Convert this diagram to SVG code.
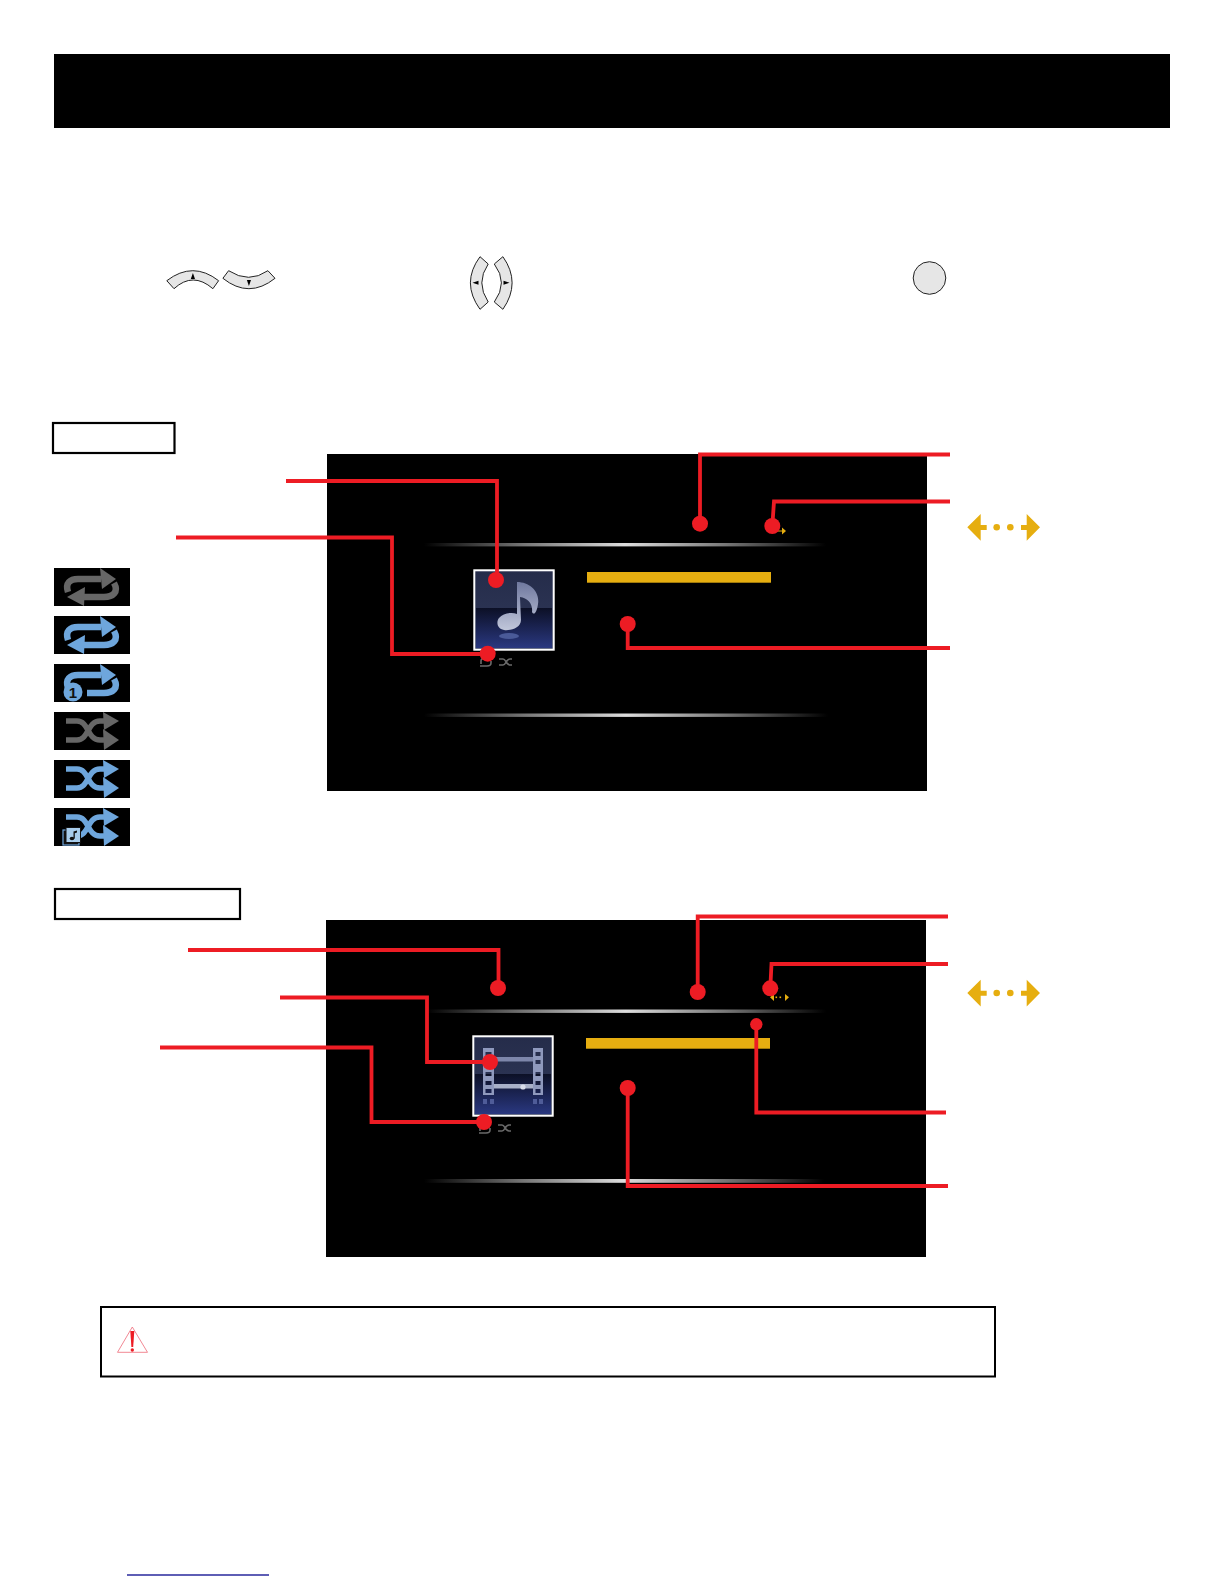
<svg xmlns="http://www.w3.org/2000/svg" width="1224" height="1584" viewBox="0 0 1224 1584">
<style>
.k{fill:#000}
.box{fill:#fff;stroke:#000;stroke-width:2.2}
.btn{fill:#e6e6e6;stroke:#222;stroke-width:1}
.wire{fill:none;stroke:#ed1c24;stroke-width:3.8}
.dot{fill:#ed1c24}
.gold{fill:#e6ae10}
.tw{fill:none;stroke:#fff;stroke-width:2}
.ig{--c:#666}
.ib{--c:#6ea6dc}
.b{fill:none;stroke:var(--c);stroke-width:6.500}
.s{fill:none;stroke:var(--c);stroke-width:5.500}
.h{fill:var(--c)}
.sm{fill:none;stroke:#6a6a6a;stroke-width:1.6}
</style>
<defs>
<linearGradient id="sheen"><stop offset="0" stop-color="#000"/><stop offset=".25" stop-color="#777"/><stop offset=".5" stop-color="#ddd"/><stop offset=".75" stop-color="#777"/><stop offset="1" stop-color="#000"/></linearGradient>
<linearGradient id="tUp" x1="0" y1="0" x2="0" y2="1"><stop offset="0" stop-color="#252c4a"/><stop offset="1" stop-color="#30395a"/></linearGradient>
<linearGradient id="tLo" x1="0" y1="0" x2="0" y2="1"><stop offset="0" stop-color="#0c1026"/><stop offset="1" stop-color="#2a3880"/></linearGradient>
<linearGradient id="fig" x1="0" y1="0" x2="0" y2="1"><stop offset="0" stop-color="#6f789e"/><stop offset="1" stop-color="#c0c6da"/></linearGradient>
<g id="rep"><path class="b" d="M14 24C11 15 16 11 24 11H47"/><path class="h" d="M46 0L62 11L48 21Z"/><path class="b" d="M60 15C65 24 59 29 50 29H28"/><path class="h" d="M31 19L13 29L30 38Z"/></g>
<g id="rep1"><path class="b" d="M14 24C11 15 16 11 24 11H47"/><path class="h" d="M46 0L62 11L48 21Z"/><path class="b" d="M60 15C65 24 59 29 50 29H33"/><circle cx="19" cy="28" r="9.500" fill="#6ea6dc"/><text x="19" y="33.500" text-anchor="middle" font-family="Liberation Sans, sans-serif" font-weight="700" font-size="15" fill="#111">1</text></g>
<g id="shu"><path class="s" d="M12 9H23C35 9 33 28 46 28H52"/><path class="h" d="M49 17L65 28L50 38Z"/><path class="s" d="M12 28H23C35 28 33 9 46 9H52"/><path class="h" d="M49 0L65 9L50 18Z"/></g>
</defs>
<rect id="header" class="k" x="54" y="54" width="1116" height="74"/>

<g id="btn-up"><path class="btn" d="M166.800 280.700Q192.900 260.700 218.600 280.700L212.900 288.700Q192.900 271.300 174 288.700Z"/><path d="M192.900 273L190.800 279H195Z"/></g>
<g id="btn-down"><path class="btn" d="M228.600 270.700Q248.900 283.900 267.900 270.700L275 278.300Q248.900 299.100 222.900 278.300Z"/><path d="M248.900 286L246.900 280H251Z"/></g>
<g id="btn-left"><path class="btn" d="M480 256.700L488.200 264Q475.400 282.700 488.200 302L480 309.300Q460.800 282.700 480 256.700Z"/><path d="M472.500 282.700L478.500 280.700V284.700Z"/></g>
<g id="btn-right"><path class="btn" d="M502.900 256.700L494.300 264Q508.500 282.700 494.300 302L502.900 309.300Q521.300 282.700 502.900 256.700Z"/><path d="M509.500 282.700L503.500 280.700V284.700Z"/></g>
<circle id="btn-ok" cx="929.500" cy="278" r="16.300" fill="#e6e6e6" stroke="#222" stroke-width="1"/>

<rect id="label-music" class="box" x="53" y="423" width="121.500" height="30"/>
<rect id="label-video" class="box" x="55" y="889" width="185" height="30"/>

<g id="screen-music">
<rect class="k" x="327" y="454" width="600" height="337"/>
<rect x="424" y="543" width="402" height="3.400" fill="url(#sheen)"/>
<rect x="424" y="713.500" width="404" height="3.400" fill="url(#sheen)"/>
<rect class="gold" x="587" y="572" width="184" height="10.700"/>
<g id="thumb-music">
<rect x="474.300" y="570.300" width="79.400" height="79.400" fill="url(#tUp)"/>
<rect x="476" y="608" width="76" height="40" fill="url(#tLo)"/>
<path fill="url(#fig)" d="M517 582C530 582 540 592 538 604C537 612 534 616 532 612C533 604 528 598 520 597L521 620C521 628 510 631 504 630C497 629 496 622 499 618C503 613 512 612 517 614Z"/>
<ellipse cx="509" cy="636" rx="10" ry="3" fill="#4a5a98"/>
<rect class="tw" x="474.300" y="570.300" width="79.400" height="79.400"/>
</g>
<g class="sm"><path d="M481 664V661Q481 658 485 658H491M491 661V663Q491 666 487 666H480"/><path d="M499 659H503C506 659 506 665 510 665H512M499 665H503C506 665 506 659 510 659H512"/></g>
<g class="gold"><rect x="778" y="530.500" width="4" height="1"/><path d="M782 527.500L786 531L782 534.500Z"/></g>
</g>

<g id="screen-video">
<rect class="k" x="326" y="920" width="600" height="337"/>
<rect x="426" y="1009.500" width="400" height="3.400" fill="url(#sheen)"/>
<rect x="424" y="1179" width="400" height="3.800" fill="url(#sheen)"/>
<rect class="gold" x="586" y="1038" width="184" height="10.700"/>
<g id="thumb-video">
<rect x="473.300" y="1036.300" width="79.400" height="79.400" fill="url(#tUp)"/>
<rect x="475" y="1074" width="76" height="40" fill="url(#tLo)"/>
<path fill="#8f99bd" fill-rule="evenodd" d="M483 1048H494V1095H483ZM485.500 1052V1056H491.500V1052ZM485.500 1060V1064H491.500V1060ZM485.500 1072V1076H491.500V1072ZM485.500 1081V1085H491.500V1081ZM485.500 1089V1093H491.500V1089ZM533 1048H543V1095H533ZM535.500 1052V1056H540.500V1052ZM535.500 1060V1064H540.500V1060ZM535.500 1072V1076H540.500V1072ZM535.500 1081V1085H540.500V1081ZM535.500 1089V1093H540.500V1089Z"/>
<rect x="494" y="1057" width="39" height="4.500" fill="#7d86aa"/>
<rect x="494" y="1084" width="39" height="4.500" fill="#a8b0c8"/>
<circle cx="523" cy="1087" r="2.600" fill="#d8dcea"/>
<path fill="#4f5c98" d="M483 1099H487V1104H483ZM490 1099H494V1104H490ZM533 1099H537V1104H533ZM539 1099H543V1104H539Z"/>
<rect class="tw" x="473.300" y="1036.300" width="79.400" height="79.400"/>
</g>
<g class="sm"><path d="M480 1131V1128Q480 1125 484 1125H490M490 1128V1130Q490 1133 486 1133H479"/><path d="M498 1125H502C505 1125 505 1131 509 1131H511M498 1131H502C505 1131 505 1125 509 1125H511"/></g>
<g class="gold"><rect x="775.500" y="996.500" width="1.600" height="1.600"/><rect x="779.500" y="996.500" width="1.600" height="1.600"/><path d="M770 997.300L774 994V1001ZM789 997.300L785 994V1001Z"/></g>
</g>

<g id="icon-1" class="ig" transform="translate(54 568)"><rect class="k" width="76" height="38"/><use href="#rep"/></g>
<g id="icon-2" class="ib" transform="translate(54 616)"><rect class="k" width="76" height="38"/><use href="#rep"/></g>
<g id="icon-3" class="ib" transform="translate(54 664)"><rect class="k" width="76" height="38"/><use href="#rep1"/></g>
<g id="icon-4" class="ig" transform="translate(54 712)"><rect class="k" width="76" height="38"/><use href="#shu"/></g>
<g id="icon-5" class="ib" transform="translate(54 760)"><rect class="k" width="76" height="38"/><use href="#shu"/></g>
<g id="icon-6" class="ib" transform="translate(54 808)"><rect class="k" width="76" height="38"/><use href="#shu"/><rect x="9" y="22" width="16" height="15" fill="#111" stroke="#6ea6dc" stroke-width="1.200"/><rect x="12" y="19.500" width="14.500" height="15" fill="#a8cdec" stroke="#111" stroke-width="1"/><path d="M19.500 23.500L23 22.500V24.500L20.800 25.200V30.500H19.500Z" fill="#111"/><ellipse cx="18" cy="30.500" rx="2.300" ry="1.800" fill="#111"/></g>

<g id="key-music" class="gold"><path d="M967.300 527.300L980.700 514V525H986.700V530H980.700V540.700Z"/><circle cx="996.700" cy="527.300" r="3.300"/><circle cx="1010.300" cy="527.300" r="3.300"/><path d="M1040 527.300L1026.700 514V525H1021V530H1026.700V540.700Z"/></g>
<g id="key-video" class="gold"><path d="M967.300 993L980.700 979.700V990.700H986.700V995.700H980.700V1006.400Z"/><circle cx="996.700" cy="993" r="3.300"/><circle cx="1010.300" cy="993" r="3.300"/><path d="M1040 993L1026.700 979.700V990.700H1021V995.700H1026.700V1006.400Z"/></g>

<g id="connectors">
<path class="wire" d="M286 481H497V580"/>
<path class="wire" d="M176 537.500H392V654H488"/>
<path class="wire" d="M950 454.500H700V524"/>
<path class="wire" d="M950 501.500H774L772.300 526"/>
<path class="wire" d="M950 648H627.700V624"/>
<path class="wire" d="M188 950H498.500V988"/>
<path class="wire" d="M280 997.500H427V1062H490"/>
<path class="wire" d="M160 1047.500H371.500V1122H484"/>
<path class="wire" d="M948 916.500H697.700V992"/>
<path class="wire" d="M948 964H771.500L770.300 988"/>
<path class="wire" d="M946 1112.500H756.300V1024" stroke-width="2.800"/>
<path class="wire" d="M948 1186H627.700V1088"/>
</g>
<g id="dots" class="dot">
<circle cx="496" cy="580" r="8"/><circle cx="700" cy="523.700" r="8"/><circle cx="772.300" cy="526" r="8"/><circle cx="627.700" cy="624" r="8"/><circle cx="487.700" cy="653.700" r="8"/>
<circle cx="498" cy="988" r="8"/><circle cx="697.700" cy="992" r="8"/><circle cx="770.300" cy="988.300" r="8"/><circle cx="756.300" cy="1024.300" r="6.200"/><circle cx="627.700" cy="1088" r="8"/><circle cx="490" cy="1062" r="8"/><circle cx="484" cy="1122" r="8"/>
</g>

<g id="warning">
<rect x="101" y="1307" width="894" height="69.500" fill="#fff" stroke="#000" stroke-width="2"/>
<path d="M132.300 1327L147.500 1352.300H117.500Z" fill="#fff" stroke="#ee6a78" stroke-width=".8"/>
<path d="M130.300 1331H134.300L133.200 1347H131.400Z" fill="#ed1c24"/>
<circle cx="132.300" cy="1350" r="1.700" fill="#ed1c24"/>
</g>
<rect id="footer-link" x="127" y="1574.300" width="142" height="1.400" fill="#1a1a96"/>
</svg>
